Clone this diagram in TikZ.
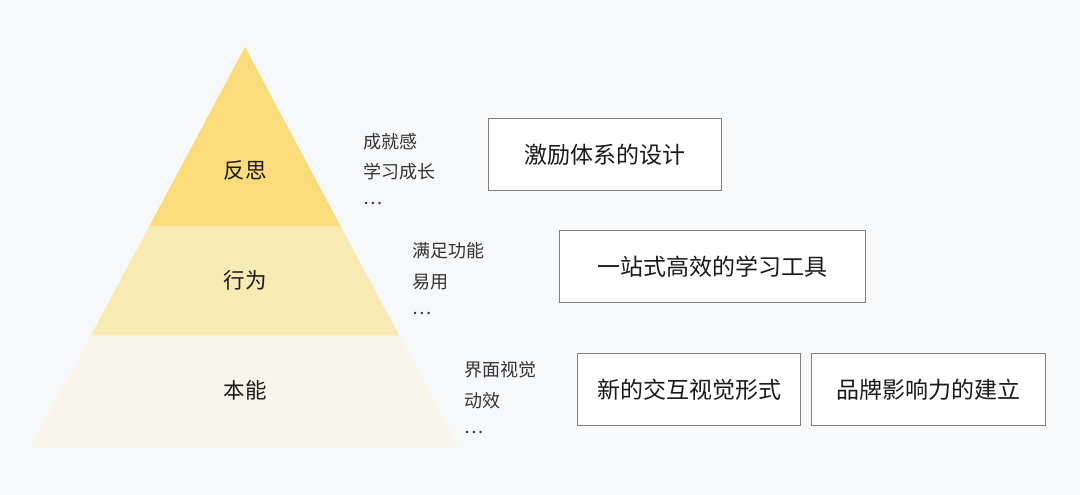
\documentclass[tikz,border=0pt]{standalone}
\usepackage{fontspec}
\setmainfont{Noto Sans CJK SC}
\begin{document}
\begin{tikzpicture}[x=1pt,y=-1pt,
  lvl/.style={font=\fontsize{21.5}{26}\selectfont, text=black!90},
  side/.style={font=\fontsize{18}{22}\selectfont, text=black!80, anchor=west, inner sep=0pt},
  box/.style={draw=black!50, line width=1.2pt, fill=white, anchor=north west, inner sep=0pt, font=\fontsize{23}{28}\selectfont, text=black!90}]
\definecolor{bg}{HTML}{F7F8FA}
\definecolor{topc}{HTML}{FADD7A}
\definecolor{midc}{HTML}{F8EAB3}
\definecolor{botc}{HTML}{F8F6EA}
\fill[bg] (0,0) rectangle (1080,495);
\useasboundingbox (0,0) rectangle (1080,495);
% pyramid
\fill[topc] (245,47) -- (340.8,226.5) -- (149.2,226.5) -- cycle;
\fill[midc] (149.2,226.5) -- (340.8,226.5) -- (399.2,335.5) -- (90.8,335.5) -- cycle;
\fill[botc] (90.8,335.5) -- (399.2,335.5) -- (459,447) -- (31,447) -- cycle;
\node[lvl] (l1) at (245,170) {反思};
\node[lvl] (l2) at (245,280) {行为};
\node[lvl] (l3) at (245,390) {本能};
% side texts
\node[side] (a1) at (363,142) {成就感};
\node[side] (a2) at (363,172) {学习成长};
\node[side] (a3) at (363,203) {…};
\node[side] (b1) at (412,251) {满足功能};
\node[side] (b2) at (412,282) {易用};
\node[side] (b3) at (412,313) {…};
\node[side] (c1) at (464,370) {界面视觉};
\node[side] (c2) at (464,401) {动效};
\node[side] (c3) at (464,432) {…};
% boxes
\node[box, minimum width=233, minimum height=72] (k1) at (488,118) {激励体系的设计};
\node[box, minimum width=306, minimum height=72] (k2) at (559,230) {一站式高效的学习工具};
\node[box, minimum width=223, minimum height=72] (k3) at (577,353) {新的交互视觉形式};
\node[box, minimum width=234, minimum height=72] (k4) at (811,353) {品牌影响力的建立};
\end{tikzpicture}
\end{document}
